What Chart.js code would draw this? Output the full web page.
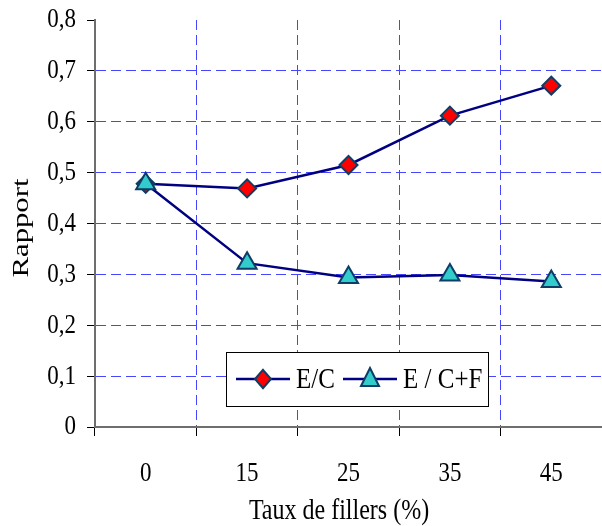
<!DOCTYPE html>
<html><head><meta charset="utf-8">
<script src="https://cdn.jsdelivr.net/npm/chart.js@4/dist/chart.umd.min.js"></script>
<style>html,body{margin:0;padding:0;background:#fff}#wrap{width:602px;height:526px;position:relative}</style>
</head><body><div id="wrap"><canvas id="c" width="602" height="526"></canvas></div>
<script>
// ---- data ----
const categories = ['0', '15', '25', '35', '45'];
const seriesEC = [0.478, 0.469, 0.515, 0.612, 0.671];
const seriesECF = [0.478, 0.322, 0.294, 0.299, 0.286];
const seriesNames = ['E/C', 'E / C+F'];
const yMin = 0, yMax = 0.8, yStep = 0.1;
const xTitle = 'Taux de fillers (%)';
const yTitle = 'Rapport';

// ---- text vertical stretch (reference glyphs are tall/condensed) ----
const STRETCH = 1.22;
const origFill = CanvasRenderingContext2D.prototype.fillText;
CanvasRenderingContext2D.prototype.fillText = function (t, x, y, mw) {
  this.save();
  this.translate(x, y);
  this.scale(1, STRETCH);
  if (mw === undefined) origFill.call(this, t, 0, 0); else origFill.call(this, t, 0, 0, mw);
  this.restore();
};

const FONT = "'Liberation Serif', 'Times New Roman', serif";
const LINE = '#000080';
const GRID = '#4646ff';

function fmt(v) {
  if (Math.abs(v) < 1e-9) return '0';
  return v.toFixed(1).replace('.', ',');
}

const overlay = {
  id: 'overlay',
  afterDraw(chart) {
    const ctx = chart.ctx, ca = chart.chartArea;
    ctx.save();
    ctx.fillStyle = '#000';
    // x title
    ctx.font = '24px ' + FONT;
    ctx.textAlign = 'center';
    ctx.textBaseline = 'middle';
    ctx.fillText(xTitle, ca.left + 244, ca.bottom + 84);
    // y title (stretched along its length)
    ctx.save();
    ctx.translate(22, ca.top + 208);
    ctx.rotate(-Math.PI / 2);
    ctx.scale(1.28, 1 / STRETCH);
    ctx.font = '24px ' + FONT;
    ctx.textAlign = 'center';
    ctx.textBaseline = 'middle';
    ctx.fillText(yTitle, 0, 0);
    ctx.restore();

    // legend box
    const bx = ca.left + 131, by = ca.bottom - 75, bw = 262, bh = 54;
    ctx.fillStyle = '#fff';
    ctx.fillRect(bx, by, bw, bh);
    ctx.strokeStyle = '#000';
    ctx.lineWidth = 1;
    ctx.strokeRect(bx + 0.5, by + 0.5, bw, bh);
    const cy = by + 27;
    const items = chart.data.datasets;
    const lx = [bx + 10, bx + 117];
    items.slice().sort((a, b) => a.legendIdx - b.legendIdx).forEach((ds, i) => {
      const x0 = lx[i];
      ctx.strokeStyle = ds.borderColor;
      ctx.lineWidth = 2.5;
      ctx.beginPath(); ctx.moveTo(x0, cy); ctx.lineTo(x0 + 54, cy); ctx.stroke();
      const mx = x0 + 27;
      ctx.fillStyle = ds.pointBackgroundColor;
      ctx.strokeStyle = ds.pointBorderColor;
      ctx.lineWidth = 2;
      ctx.beginPath();
      if (ds.pointStyle === 'rectRot') {
        const r = 8;
        ctx.moveTo(mx, cy - r * 1.15); ctx.lineTo(mx + r, cy); ctx.lineTo(mx, cy + r * 1.15); ctx.lineTo(mx - r, cy);
      } else {
        ctx.moveTo(mx, cy - 11); ctx.lineTo(mx + 9, cy + 7); ctx.lineTo(mx - 9, cy + 7);
      }
      ctx.closePath(); ctx.fill(); ctx.stroke();
      ctx.fillStyle = '#000';
      ctx.font = '25px ' + FONT;
      ctx.textAlign = 'left';
      ctx.textBaseline = 'middle';
      ctx.fillText(ds.label, x0 + 60, cy + 1);
    });
    ctx.restore();
  }
};

new Chart(document.getElementById('c'), {
  type: 'line',
  data: {
    labels: categories,
    datasets: [
      {
        label: seriesNames[0], legendIdx: 0, order: 1,
        data: seriesEC,
        borderColor: LINE, borderWidth: 2.5, tension: 0,
        pointStyle: 'rectRot', pointRadius: 9, pointHoverRadius: 9,
        pointBackgroundColor: '#ff0000', pointBorderColor: '#0e3d66', pointBorderWidth: 2
      },
      {
        label: seriesNames[1], legendIdx: 1, order: 0,
        data: seriesECF,
        borderColor: LINE, borderWidth: 2.5, tension: 0,
        pointStyle: 'triangle', pointRadius: 11, pointHoverRadius: 11,
        pointBackgroundColor: '#33cccc', pointBorderColor: '#0e3d66', pointBorderWidth: 2
      }
    ]
  },
  options: {
    responsive: false,
    animation: false,
    events: [],
    layout: { autoPadding: false, padding: { top: 20, left: 0, right: 0, bottom: 0 } },
    plugins: { legend: { display: false }, tooltip: { enabled: false } },
    scales: {
      x: {
        type: 'category',
        offset: true,
        afterFit(s) { s.height = 99; s.paddingLeft = 0; s.paddingRight = 0; },
        grid: {
          offset: true,
          color: c => (c.index === 0 ? 'rgba(0,0,0,0)' : GRID),
          lineWidth: 1,
          tickLength: 9,
          tickColor: '#000',
          tickWidth: 1,
          tickBorderDash: []
        },
        border: { display: true, color: '#6e6e6e', width: 2, dash: [10, 5] },
        ticks: {
          color: '#000',
          font: { family: FONT, size: 23 },
          padding: 24,
          maxRotation: 0
        }
      },
      y: {
        min: yMin, max: yMax,
        afterFit(s) { s.width = 95; s.paddingTop = 0; s.paddingBottom = 0; },
        ticks: {
          stepSize: yStep,
          color: '#000',
          font: { family: FONT, size: 23 },
          padding: 11,
          callback: v => fmt(v)
        },
        grid: {
          color: c => (c.tick && Math.abs(c.tick.value - yMax) < 1e-6) ? 'rgba(0,0,0,0)' : GRID,
          lineWidth: 1,
          tickLength: 8,
          tickColor: '#000',
          tickWidth: 1,
          tickBorderDash: []
        },
        border: { display: true, color: '#6e6e6e', width: 2, dash: [10, 5] }
      }
    }
  },
  plugins: [overlay]
});
</script>
</body></html>
